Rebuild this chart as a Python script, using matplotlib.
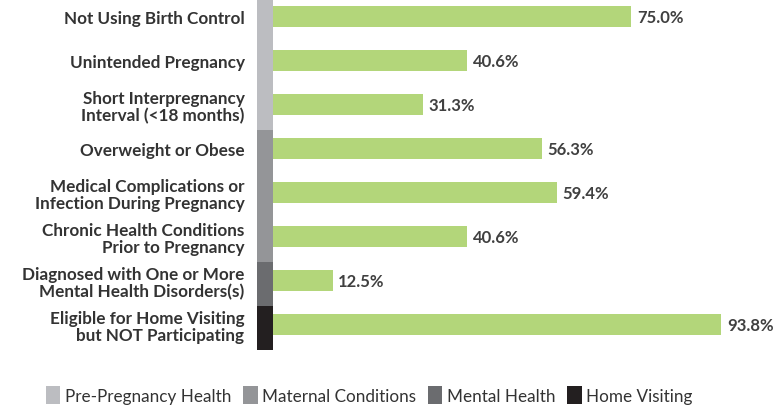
import numpy as np
import matplotlib.pyplot as plt
from matplotlib.patches import Patch

plt.rcParams['font.family'] = ['Lato', 'DejaVu Sans']

# Data
categories = [
    "Not Using Birth Control",
    "Unintended Pregnancy",
    "Short Interpregnancy\nInterval (<18 months)",
    "Overweight or Obese",
    "Medical Complications or\nInfection During Pregnancy",
    "Chronic Health Conditions\nPrior to Pregnancy",
    "Diagnosed with One or More\nMental Health Disorders(s)",
    "Eligible for Home Visiting\nbut NOT Participating",
]
values = [75.0, 40.6, 31.3, 56.3, 59.4, 40.6, 12.5, 93.8]
groups = [
    "Pre-Pregnancy Health", "Pre-Pregnancy Health", "Pre-Pregnancy Health",
    "Maternal Conditions", "Maternal Conditions", "Maternal Conditions",
    "Mental Health", "Home Visiting",
]
group_names = ["Pre-Pregnancy Health", "Maternal Conditions", "Mental Health", "Home Visiting"]
group_colors = {
    "Pre-Pregnancy Health": "#bcbdc1",
    "Maternal Conditions": "#949598",
    "Mental Health": "#6b6c6f",
    "Home Visiting": "#231f20",
}

BAR_COLOR = "#b3d67a"
TEXT_COLOR = "#333333"
STRIP_W = 3.35

W, H = 783, 406
fig = plt.figure(figsize=(W / 100, H / 100), dpi=100)
# axes spans x from 257px to 783px, y from 0 to 360px
ax = fig.add_axes([257 / W, (H - 360) / H, (W - 257) / W, 360 / H])

y = np.arange(len(categories))
bars = ax.barh(y, values, height=0.48, color=BAR_COLOR, zorder=2)
ax.bar_label(bars, labels=[f"{v:.1f}%" for v in values], padding=4,
             fontsize=12, fontweight='bold', color="#404040")

# grouping strip left of the bars
ax.barh(y + 0.08, [STRIP_W] * len(y), left=-STRIP_W, height=1.0,
        color=[group_colors[g] for g in groups], zorder=3)

ax.set_xlim(-STRIP_W, 106.7)
ax.set_ylim(7.784, -0.398)
ax.set_yticks(y)
ax.set_yticklabels(categories, fontsize=12.3, fontweight='bold', color=TEXT_COLOR,
                   linespacing=1.05)
ax.tick_params(axis='y', length=0, pad=9)
ax.set_xticks([])
for s in ax.spines.values():
    s.set_visible(False)

handles = [Patch(facecolor=group_colors[g], edgecolor='none', label=g) for g in group_names]
fig.legend(handles=handles, loc='center', bbox_to_anchor=(369 / W, 1 - 396 / H), ncol=4,
           frameon=False, fontsize=12.3, handlelength=0.85, handleheight=1.3,
           handletextpad=0.25, columnspacing=0.7, labelcolor=TEXT_COLOR)

fig.savefig("out.png", dpi=100)
